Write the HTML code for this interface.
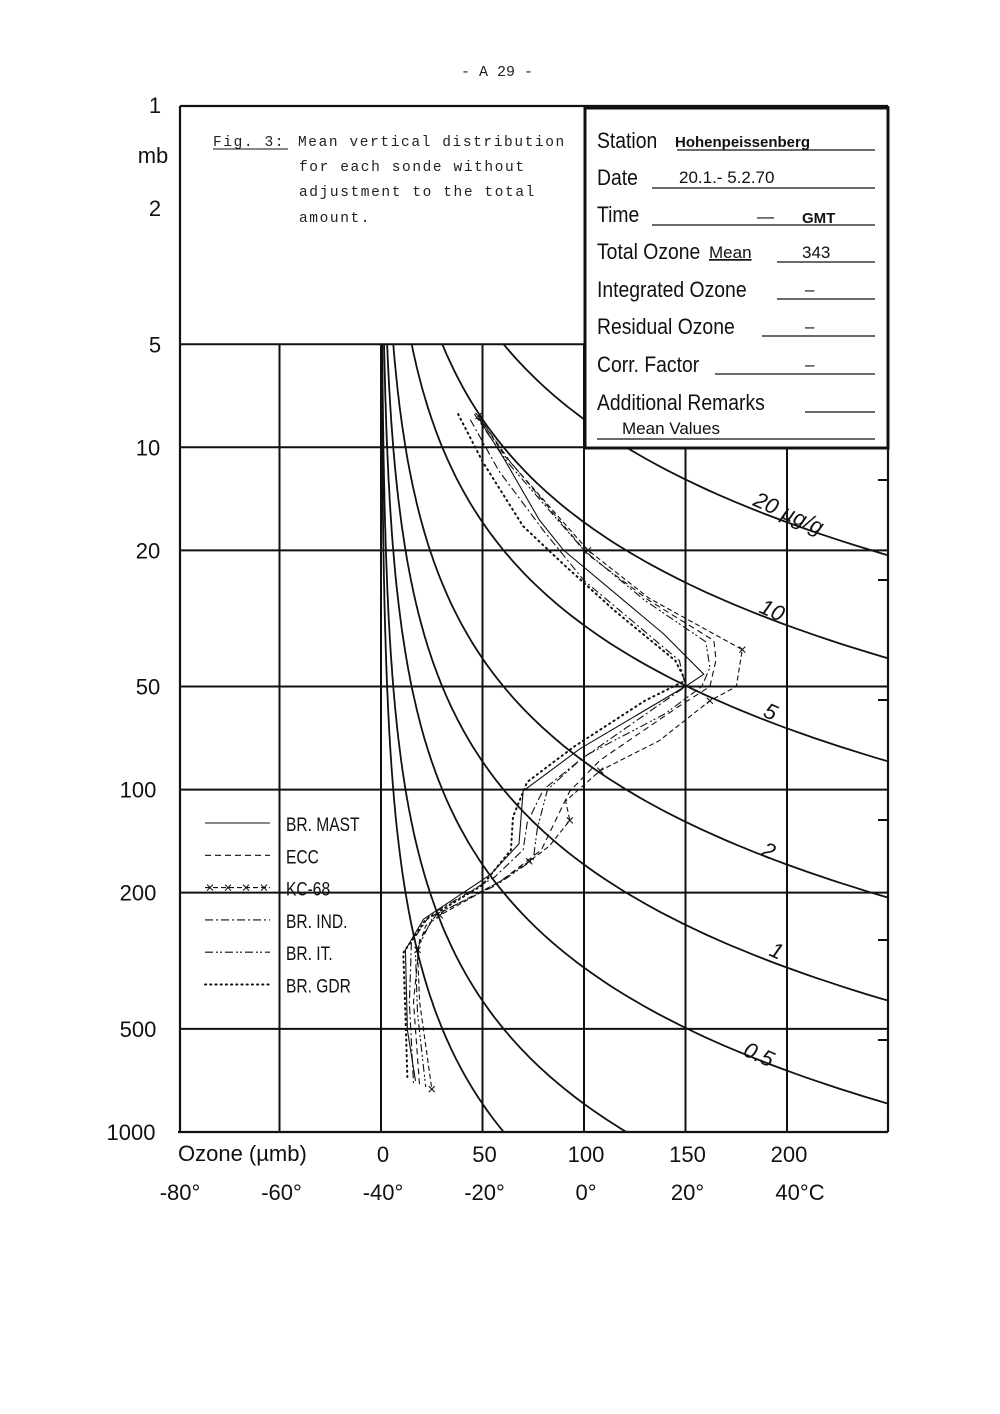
<!DOCTYPE html>
<html><head><meta charset="utf-8"><style>
body{margin:0;background:#fff;}
svg{display:block;}
.t{font-family:"Liberation Sans",sans-serif;fill:#111;}
.m{font-family:"Liberation Mono",monospace;fill:#222;}
</style></head><body>
<svg id="c" width="1000" height="1414" viewBox="0 0 1000 1414" xmlns="http://www.w3.org/2000/svg">
<rect width="1000" height="1414" fill="#fff"/>
<text class="m" x="497" y="76" font-size="15" text-anchor="middle">- A 29 -</text>
<g id="grid" stroke="#111" stroke-width="2" fill="none"></g>
<g id="curves" stroke="#111" stroke-width="1.8" fill="none"></g>
<g id="series" fill="none" stroke="#111" stroke-width="1.1"></g>
<g id="frame" stroke="#111" stroke-width="2.2" fill="none">
<line x1="180" y1="106" x2="180" y2="1132"/>
<line x1="180" y1="106" x2="888" y2="106"/>
<line x1="178" y1="1132" x2="888" y2="1132"/>
<line x1="888" y1="106" x2="888" y2="1132"/>
</g>
<g>
<rect x="585" y="108" width="303" height="340" fill="#fff" stroke="#111" stroke-width="3"/>
<g class="t" font-size="22" transform="translate(597,0)">
<text y="148" transform="scale(0.88,1)">Station</text>
<text x="78" y="147" font-size="15" font-weight="bold">Hohenpeissenberg</text>
<line x1="80" y1="150" x2="278" y2="150" stroke="#111" stroke-width="1.2"/>
<text y="185" transform="scale(0.88,1)">Date</text>
<text x="82" y="183" font-size="17">20.1.- 5.2.70</text>
<line x1="55" y1="188" x2="278" y2="188" stroke="#111" stroke-width="1.2"/>
<text y="222" transform="scale(0.88,1)">Time</text>
<text x="160" y="222" font-size="17">—</text><text x="205" y="223" font-size="15" font-weight="bold">GMT</text>
<line x1="55" y1="225" x2="278" y2="225" stroke="#111" stroke-width="1.2"/>
<text y="259" transform="scale(0.88,1)">Total Ozone</text>
<text x="112" y="258" font-size="17" text-decoration="underline">Mean</text><text x="205" y="258" font-size="17">343</text>
<line x1="180" y1="262" x2="278" y2="262" stroke="#111" stroke-width="1.2"/>
<text y="297" transform="scale(0.88,1)">Integrated Ozone</text>
<text x="208" y="295" font-size="17">–</text>
<line x1="180" y1="299" x2="278" y2="299" stroke="#111" stroke-width="1.2"/>
<text y="334" transform="scale(0.88,1)">Residual Ozone</text>
<text x="208" y="332" font-size="17">–</text>
<line x1="165" y1="336" x2="278" y2="336" stroke="#111" stroke-width="1.2"/>
<text y="372" transform="scale(0.88,1)">Corr. Factor</text>
<text x="208" y="370" font-size="17">–</text>
<line x1="118" y1="374" x2="278" y2="374" stroke="#111" stroke-width="1.2"/>
<text y="410" transform="scale(0.88,1)">Additional Remarks</text>
<line x1="208" y1="412" x2="278" y2="412" stroke="#111" stroke-width="1.2"/>
<text x="25" y="434" font-size="17">Mean  Values</text>
<line x1="0" y1="439" x2="278" y2="439" stroke="#111" stroke-width="1.2"/>
</g>
</g>
<g class="m" font-size="14.5" letter-spacing="1.6">
<text x="213" y="146">Fig. 3:</text>
<text x="298" y="146">Mean vertical distribution</text>
<line x1="213" y1="149" x2="288" y2="149" stroke="#111" stroke-width="1"/>
<text x="299" y="171">for each sonde without</text>
<text x="299" y="196">adjustment to the total</text>
<text x="299" y="222">amount.</text>
</g>
<g class="t" font-size="22" text-anchor="middle" id="ylab"></g>
<g class="t" font-size="22" id="xlab"></g>
<g id="rlab" class="t" font-size="22" font-style="italic"></g>
<g id="legend"></g>
</svg>
<script>
const pressureTicks=[1,2,5,10,20,50,100,200,500,1000];
const ozoneTicks=[0,50,100,150,200];
const tempTicks=["-80°","-60°","-40°","-20°","0°","20°","40°C"];
const mixingRatios=[0.1,0.2,0.5,1,2,5,10,20];
const ratioLabels=["20 µg/g","10","5","2","1","0.5"];
const seriesNames=["BR. MAST","ECC","KC-68","BR. IND.","BR. IT.","BR. GDR"];
const mastP=[8.2,10.9,16.3,20,35,46,49.5,76,101,144,177,239,294,504,710];
const mastO=[48,61,78,90,139,159,151,98,70,68,54,21,12,13,17];
const eccP=[8.1,10.9,20.6,28,36.7,41.8,50,57,82,101,123,150,185,233,275,417,735];
const eccO=[48,63,102,132,164,165,162,147,108,93,86,79,59,27,19,16,19];
const kcP=[8.1,10.6,20,27.6,39,50,55,72,88,108,123,146,162,185,233,250,294,417,750];
const kcO=[48,61,102,132,178,175,162,137,108,91,93,83,73,59,29,22,18,19,25];
const indP=[8.3,11.7,17.5,24.5,42,50,56,82,100,125,150,180,233,280,420,720];
const indO=[44,58,80,100,147,150,138,98,80,72,70,56,24,15,14,16];
const itP=[8,11,20,28,37,44,50,60,80,100,130,160,190,233,300,450,740];
const itO=[46,62,100,130,160,162,158,140,100,82,77,75,57,26,17,18,22];
const gdrP=[8,11,17,22,30,42,48,55,75,95,120,150,190,240,300,450,700];
const gdrO=[38,50,70,90,115,145,150,130,95,72,65,64,50,22,11,12,13];

const NS='http://www.w3.org/2000/svg';
const Y=p=>105+Math.log10(p)*342.3;
const X=o=>381+o*2.03;
function mk(t,a,parent){const e=document.createElementNS(NS,t);for(const k in a)e.setAttribute(k,a[k]);parent.appendChild(e);return e;}
const grid=document.getElementById('grid');
[5,10,20,50,100,200,500].forEach(p=>{
 const l=mk('line',{x1:180,y1:Y(p),x2:p==5?585:888,y2:Y(p)},grid);
 
 
});
[-50,0,50,100,150,200].forEach(o=>{
 const l=mk('line',{x1:X(o),y1:Y(5),x2:X(o),y2:1132},grid);
 
 
});
[480,580,700,820,940,1040].forEach(y=>{mk('line',{x1:878,y1:y,x2:888,y2:y},grid);});
const cv=document.getElementById('curves');
const clip=mk('clipPath',{id:'cl'},mk('defs',{},document.getElementById('c')));
mk('rect',{x:381,y:Y(5),width:507,height:1132-Y(5)},clip);
cv.setAttribute('clip-path','url(#cl)');
mixingRatios.forEach(r=>{
 let d='';
 for(let i=0;i<=200;i++){const p=5*Math.pow(200,i/200);d+=(i?'L':'M')+X(0.604*r*p).toFixed(1)+','+Y(p).toFixed(1);}
 const e=mk('path',{d:d},cv);
 
 
});
const rl=document.getElementById('rlab');
const rpos=[[752,505],[758,612],[762,716],[760,855],[768,955],[742,1055]];
ratioLabels.forEach((s,i)=>{
 const t=mk('text',{x:rpos[i][0],y:rpos[i][1],transform:'rotate(24 '+rpos[i][0]+' '+rpos[i][1]+')'},rl);
 t.textContent=s;
 
 
});
const styles=[
 {dash:'',w:1.1},{dash:'6,4',w:1.1},{dash:'5,3',w:1.1,mark:true},
 {dash:'8,3,2,3',w:1.1},{dash:'8,3,2,2,2,3',w:1.1},{dash:'1.2,4',w:2,cap:'round'}];
const data=[[mastP,mastO],[eccP,eccO],[kcP,kcO],[indP,indO],[itP,itO],[gdrP,gdrO]];
const sg=document.getElementById('series');
data.forEach((d,i)=>{
 const pts=d[0].map((p,j)=>X(d[1][j]).toFixed(1)+','+Y(p).toFixed(1)).join(' ');
 const pl=mk('polyline',{points:pts,'stroke-dasharray':styles[i].dash,'stroke-width':styles[i].w,'stroke-linecap':styles[i].cap||'butt'},sg);
 
 
 if(styles[i].mark){d[0].forEach((p,j)=>{if(j%2)return;const x=X(d[1][j]),y=Y(p);
  mk('path',{d:`M${x-3},${y-3}L${x+3},${y+3}M${x+3},${y-3}L${x-3},${y+3}`},sg);});}
});
const yl=document.getElementById('ylab');
pressureTicks.forEach(p=>{
 const t=mk('text',{x:p==1000?131:(p>=100?138:(p>=10?148:155)),y:Y(p)+8},yl);
 t.textContent=p;
 
 
});
const mb=mk('text',{x:153,y:163},yl);mb.textContent='mb';
const xl=document.getElementById('xlab');
const ot=mk('text',{x:178,y:1161},xl);ot.textContent='Ozone (µmb)';


ozoneTicks.forEach(o=>{
 const t=mk('text',{x:X(o)+2,y:1162,'text-anchor':'middle'},xl);
 t.textContent=o;
 
 
});
tempTicks.forEach((s,i)=>{
 const t=mk('text',{x:(i==6?800:180+i*101.5),y:1200,'text-anchor':'middle'},xl);
 t.textContent=s;
 
 
});
const lg=document.getElementById('legend');
seriesNames.forEach((s,i)=>{
 const y=825+i*32.3;
 const l=mk('line',{x1:205,y1:y-2,x2:270,y2:y-2,stroke:'#111','stroke-width':styles[i].w,'stroke-dasharray':styles[i].dash,'stroke-linecap':styles[i].cap||'butt'},lg);
 
 
 if(styles[i].mark){[210,228,246,264].forEach(x=>mk('path',{d:`M${x-3},${y-5}L${x+3},${y+1}M${x+3},${y-5}L${x-3},${y+1}`,stroke:'#111','stroke-width':1},lg));}
 const t=mk('text',{x:0,y:0,'font-size':19,class:'t',transform:`translate(286,${y+6}) scale(0.82,1)`},lg);
 t.textContent=s;
 
 
});
</script>
</body></html>
